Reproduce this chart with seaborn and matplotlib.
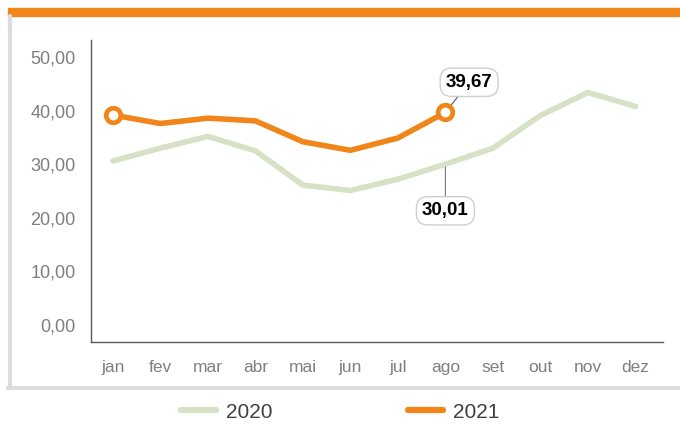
import matplotlib
matplotlib.use("Agg")
import matplotlib.pyplot as plt
import seaborn as sns
import pandas as pd
from matplotlib.patches import Rectangle
from matplotlib.lines import Line2D

months = ["jan", "fev", "mar", "abr", "mai", "jun", "jul", "ago", "set", "out", "nov", "dez"]
vals_2020 = [30.6, 33.0, 35.2, 32.5, 26.1, 25.1, 27.2, 30.01, 33.0, 39.1, 43.4, 40.8]
vals_2021 = [39.2, 37.6, 38.6, 38.1, 34.2, 32.6, 34.9, 39.67]
yticks = [0, 10, 20, 30, 40, 50]
ytick_labels = ["0,00", "10,00", "20,00", "30,00", "40,00", "50,00"]

ORANGE = "#F0861A"
GREEN = "#D6E1C6"
GRAY_TXT = "#7F7F7F"

df = pd.concat([
    pd.DataFrame({"mes": range(len(vals_2020)), "valor": vals_2020, "ano": "2020"}),
    pd.DataFrame({"mes": range(len(vals_2021)), "valor": vals_2021, "ano": "2021"}),
])

sns.set_theme(style="white")
plt.rcParams["font.family"] = ["Liberation Sans", "DejaVu Sans"]

W, H = 680, 424
fig = plt.figure(figsize=(6.8, 4.24), dpi=100)
fig.patch.set_facecolor("white")

# frame decorations
fig.patches.append(Rectangle((8 / W, 1 - 16 / H), 672 / W, 8 / H, transform=fig.transFigure,
                             color=ORANGE, zorder=0))
fig.add_artist(Line2D([9.5 / W, 9.5 / W], [1 - 16 / H, 1 - 388 / H], transform=fig.transFigure,
                      color="#DCDCDC", lw=3))
fig.add_artist(Line2D([8 / W, 680 / W], [1 - 388 / H, 1 - 388 / H], transform=fig.transFigure,
                      color="#DCDCDC", lw=3))

ax = fig.add_axes([91 / W, 1 - 342 / H, (663 - 91) / W, (342 - 40) / H])
sns.lineplot(data=df, x="mes", y="valor", hue="ano", palette={"2020": GREEN, "2021": ORANGE},
             linewidth=4, ax=ax, legend=False, sort=False)

# open markers on 2021 first/last
for i in [0, len(vals_2021) - 1]:
    ax.plot(i, vals_2021[i], marker="o", ms=10.5, mfc="white", mec=ORANGE, mew=3.4, zorder=5)

ax.set_xlim(-0.46, 11.58)
ax.set_ylim(-3.2, 53.2)
ax.set_xticks(range(len(months)))
ax.set_xticklabels(months)
ax.set_yticks(yticks)
ax.set_yticklabels(ytick_labels)
ax.tick_params(axis="x", length=0, pad=13, labelsize=12.5, labelcolor=GRAY_TXT)
ax.tick_params(axis="y", length=0, pad=11, labelsize=13, labelcolor=GRAY_TXT)
ax.set_xlabel("")
ax.set_ylabel("")
for s in ["top", "right"]:
    ax.spines[s].set_visible(False)
for s in ["left", "bottom"]:
    ax.spines[s].set_color("#595959")
    ax.spines[s].set_linewidth(1)
ax.set_facecolor("none")

box = dict(boxstyle="round,pad=0.3,rounding_size=0.6", fc="white", ec="#CFCFCF", lw=1)
i = len(vals_2021) - 1
ax.annotate("39,67", xy=(i, vals_2021[i]), xytext=(i + 0.5, 45.3), ha="center", va="center",
            fontsize=13.5, fontweight="bold", color="black", bbox=box,
            arrowprops=dict(arrowstyle="-", color="#555555", lw=0.8, shrinkA=0, shrinkB=6))
ax.annotate("30,01", xy=(7, vals_2020[7]), xytext=(7, 21.3), ha="center", va="center",
            fontsize=13.5, fontweight="bold", color="black", bbox=box,
            arrowprops=dict(arrowstyle="-", color="#777777", lw=0.8, shrinkA=0, shrinkB=2))

handles = [Line2D([], [], color=GREEN, lw=4.5, solid_capstyle="round"),
           Line2D([], [], color=ORANGE, lw=4.5, solid_capstyle="round")]
fig.legend(handles, ["2020", "2021"], loc="center", bbox_to_anchor=(0.5, 1 - 412 / H), ncol=2,
           frameon=False, fontsize=15, handlelength=1.7, handletextpad=0.45, columnspacing=6.5,
           labelcolor="#404040")

fig.savefig("out.png", dpi=100)
